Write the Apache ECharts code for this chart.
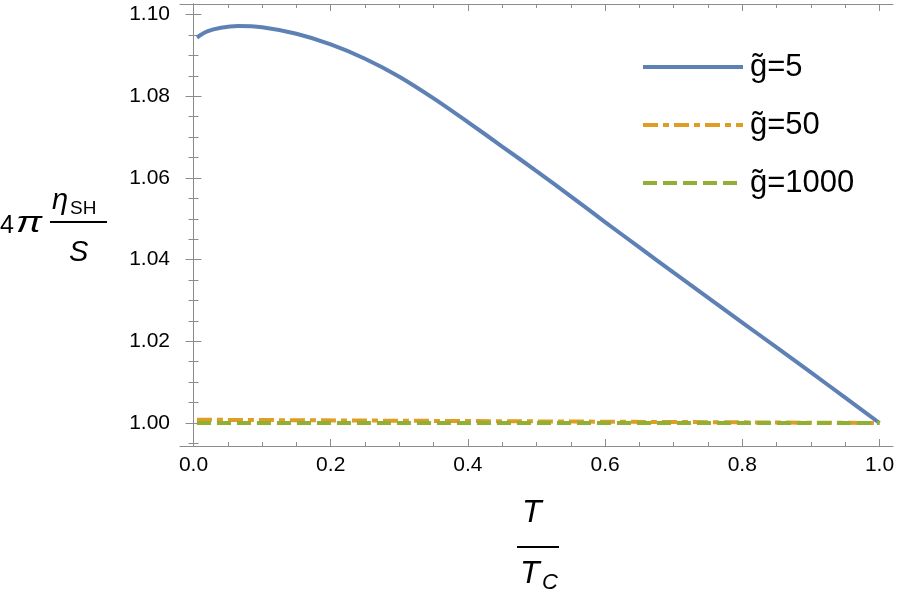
<!DOCTYPE html>
<html><head><meta charset="utf-8">
<script src="https://cdn.jsdelivr.net/npm/echarts@6/dist/echarts.min.js"></script>
<style>html,body{margin:0;padding:0;background:#fff}#c{width:899px;height:602px}</style>
</head><body><div id="c"></div>
<script>
// ---- data ----
const tG5 = [0.005, 0.02, 0.04, 0.065, 0.1, 0.15, 0.2, 0.25, 0.3, 0.35, 0.4, 0.45, 0.5, 0.55, 0.6, 0.65, 0.7, 0.75, 0.8, 0.85, 0.9, 0.95, 1.0];
const vG5 = [1.0944, 1.0959, 1.0968, 1.0972, 1.0969, 1.0953, 1.0927, 1.0892, 1.0848, 1.0795, 1.0737, 1.0677, 1.0617, 1.0555, 1.0492, 1.0430, 1.0368, 1.0307, 1.0246, 1.0185, 1.0124, 1.0062, 1.0000];
const tG50 = [0.005, 0.25, 0.5, 0.75, 1.0];
const vG50 = [1.0008, 1.0006, 1.0004, 1.0002, 1.0000];
const tG1000 = [0.005, 0.5, 1.0];
const vG1000 = [1.00002, 1.00001, 1.0000];
const seriesNames = ['g\u0303=5', 'g\u0303=50', 'g\u0303=1000'];
const xMajor = [0, 0.2, 0.4, 0.6, 0.8, 1.0];
const xMinor = [0.05, 0.1, 0.15, 0.25, 0.3, 0.35, 0.45, 0.5, 0.55, 0.65, 0.7, 0.75, 0.85, 0.9, 0.95];
const yMajor = [1.00, 1.02, 1.04, 1.06, 1.08, 1.10];
const yMinor = [0.995, 1.005, 1.01, 1.015, 1.025, 1.03, 1.035, 1.045, 1.05, 1.055, 1.065, 1.07, 1.075, 1.085, 1.09, 1.095];

const XMIN = -0.0197, XMAX = 1.0197, YMIN = 0.99437, YMAX = 1.1026;
const FRAME = '#8c8c8c';
const pair = (xs, ys) => xs.map((x, i) => [x, ys[i]]);

function xAx(pos, vals, len, line, labels) {
  return {
    type: 'value', position: pos, min: XMIN, max: XMAX,
    axisLine: { show: line, lineStyle: { color: FRAME, width: 1 } },
    axisTick: { show: true, inside: true, length: len, customValues: vals, lineStyle: { color: FRAME } },
    axisLabel: labels ? { show: true, customValues: vals, margin: 9, color: '#000', fontSize: 21, fontFamily: 'Liberation Sans', formatter: v => v.toFixed(1) } : { show: false },
    splitLine: { show: false }
  };
}
function yAx(pos, vals, len, line, labels) {
  return {
    type: 'value', position: pos, min: YMIN, max: YMAX,
    axisLine: { show: line, lineStyle: { color: FRAME, width: 1 } },
    axisTick: { show: true, inside: true, length: len, customValues: vals, lineStyle: { color: FRAME } },
    axisLabel: labels ? { show: true, customValues: vals, margin: 10, color: '#000', fontSize: 21, fontFamily: 'Liberation Sans', formatter: v => v.toFixed(2) } : { show: false },
    splitLine: { show: false }
  };
}

const chart = echarts.init(document.getElementById('c'), null, { renderer: 'canvas' });
chart.setOption({
  animation: false,
  backgroundColor: '#fff',
  grid: { left: 180, right: 6, top: 4, bottom: 156, containLabel: false },
  xAxis: [
    xAx('bottom', xMajor, 7, true, true),
    xAx('bottom', xMinor, 4, false, false),
    xAx('top', xMajor, 7, true, false),
    xAx('top', xMinor, 4, false, false)
  ],
  yAxis: [
    yAx('left', yMajor, 8, true, true),
    yAx('left', yMinor, 5, false, false),
    yAx('right', yMajor, 8, true, false),
    yAx('right', yMinor, 5, false, false)
  ],
  legend: {
    orient: 'vertical', left: 636, top: 44, itemWidth: 100, itemHeight: 16, itemGap: 22,
    itemStyle: { opacity: 0 },
    lineStyle: { width: 4 },
    textStyle: { fontSize: 31, fontFamily: 'Liberation Sans', color: '#000', lineHeight: 36, padding: [0, 0, 0, 2] },
    data: seriesNames
  },
  series: [
    { name: seriesNames[0], type: 'line', data: pair(tG5, vG5), smooth: 0.3, showSymbol: false, symbol: 'none',
      lineStyle: { color: '#5E81B5', width: 4 }, itemStyle: { color: '#5E81B5' } },
    { name: seriesNames[1], type: 'line', data: pair(tG50, vG50), showSymbol: false, symbol: 'none',
      lineStyle: { color: '#E19C24', width: 4, type: [15, 5, 6, 5] }, itemStyle: { color: '#E19C24' } },
    { name: seriesNames[2], type: 'line', data: pair(tG1000, vG1000), showSymbol: false, symbol: 'none',
      lineStyle: { color: '#8FB032', width: 4, type: [14, 6] }, itemStyle: { color: '#8FB032' } }
  ],
  graphic: [
    { type: 'text', x: 0, y: 226, style: { text: '4', fontSize: 25, fontFamily: 'Liberation Sans', fill: '#000', verticalAlign: 'middle' } },
    { type: 'text', x: 16, y: 224, scaleX: 1.3, style: { text: '\u03c0', fontSize: 30, fontStyle: 'italic', fontFamily: 'Liberation Sans', fill: '#000', verticalAlign: 'middle' } },
    { type: 'text', left: 52, top: 186, style: { text: '\u03b7', fontSize: 29, fontStyle: 'italic', fontFamily: 'Liberation Sans', fill: '#000' } },
    { type: 'text', left: 70, top: 199, style: { text: 'SH', fontSize: 19, fontFamily: 'Liberation Sans', fill: '#000' } },
    { type: 'rect', shape: { x: 50, y: 221, width: 57, height: 2 }, style: { fill: '#000' } },
    { type: 'text', left: 69, top: 238, style: { text: 'S', fontSize: 29, fontStyle: 'italic', fontFamily: 'Liberation Sans', fill: '#000' } },
    { type: 'text', left: 522, top: 497, style: { text: 'T', fontSize: 32, fontStyle: 'italic', fontFamily: 'Liberation Sans', fill: '#000' } },
    { type: 'rect', shape: { x: 517, y: 546, width: 42, height: 2 }, style: { fill: '#000' } },
    { type: 'text', left: 520, top: 558, style: { text: 'T', fontSize: 32, fontStyle: 'italic', fontFamily: 'Liberation Sans', fill: '#000' } },
    { type: 'text', left: 542, top: 572, style: { text: 'C', fontSize: 22, fontStyle: 'italic', fontFamily: 'Liberation Sans', fill: '#000' } }
  ]
});
</script>
</body></html>
